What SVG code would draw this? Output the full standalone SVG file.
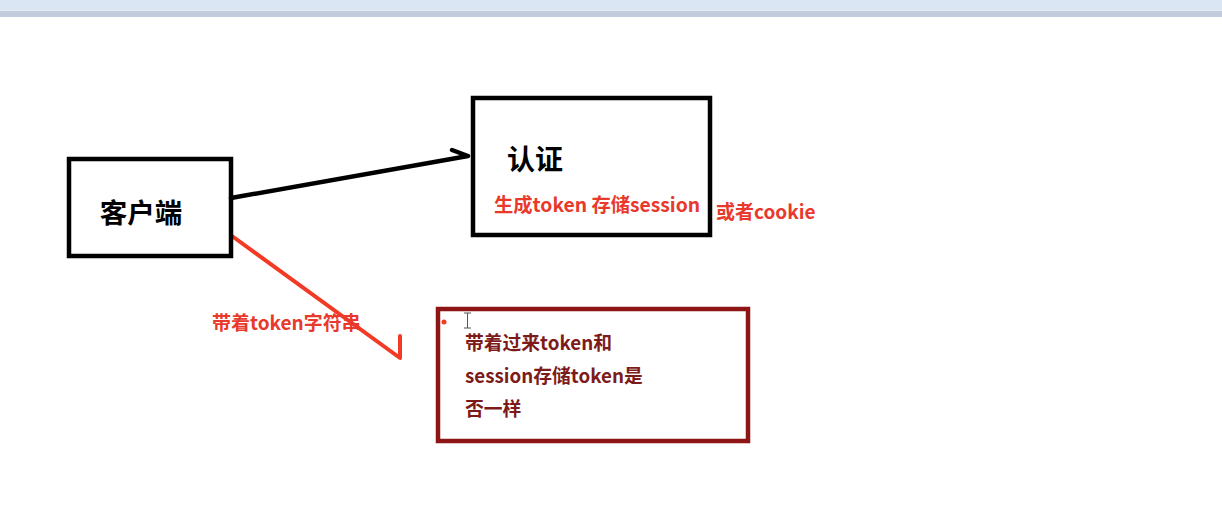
<svg xmlns="http://www.w3.org/2000/svg" width="1222" height="513" viewBox="0 0 1222 513">
<style>
.box{fill:none;stroke-width:4.5}
.t{font-family:"Noto Sans CJK SC","Liberation Sans",sans-serif;font-weight:bold}
</style>
<rect x="0" y="0" width="1222" height="513" fill="#ffffff"/>
<g id="toolbar">
<rect x="0" y="0" width="1222" height="10" fill="#dbe6f5"/>
<rect x="0" y="10" width="1222" height="7" fill="#c2ccdc"/>
<rect x="0" y="10" width="1222" height="1" fill="#e4ebf5"/>
</g>
<g id="connectors">
<path d="M231,198 L468,156 M452,150 L468,156" fill="none" stroke="#000" stroke-width="4.5" stroke-linecap="round" stroke-linejoin="round"/>
<path d="M232,236 L400,358 L400,336" fill="none" stroke="#f23a25" stroke-width="4" stroke-linecap="round" stroke-linejoin="round"/>
</g>
<g id="client">
<rect class="box" x="69" y="159" width="162" height="97" stroke="#000"/>
<text class="t" x="141" y="223" font-size="27.5" text-anchor="middle" fill="#000">客户端</text>
</g>
<g id="auth">
<rect class="box" x="473" y="98" width="237" height="137" stroke="#000"/>
<text class="t" x="507" y="170" font-size="28" fill="#000">认证</text>
<text class="t" x="494" y="212" font-size="19.3" fill="#e8392c">生成token 存储session</text>
</g>
<g id="cookie-label">
<text class="t" x="716" y="219" font-size="19" fill="#e8392c">或者cookie</text>
</g>
<g id="token-label">
<text class="t" x="212" y="330" font-size="19" fill="#e8392c">带着token字符串</text>
</g>
<g id="compare">
<rect class="box" x="438" y="309" width="310" height="132" stroke="#8e1515"/>
<circle cx="444" cy="322" r="2.5" fill="#f23a25"/>
<path d="M464,313 H471 M467.5,313 V328 M464,328 H471" fill="none" stroke="#555" stroke-width="1"/>
<text class="t" font-size="18.8" fill="#7d1a1a">
<tspan x="465" y="350">带着过来token和</tspan>
<tspan x="465" y="383">session存储token是</tspan>
<tspan x="465" y="416">否一样</tspan>
</text>
</g>
</svg>
